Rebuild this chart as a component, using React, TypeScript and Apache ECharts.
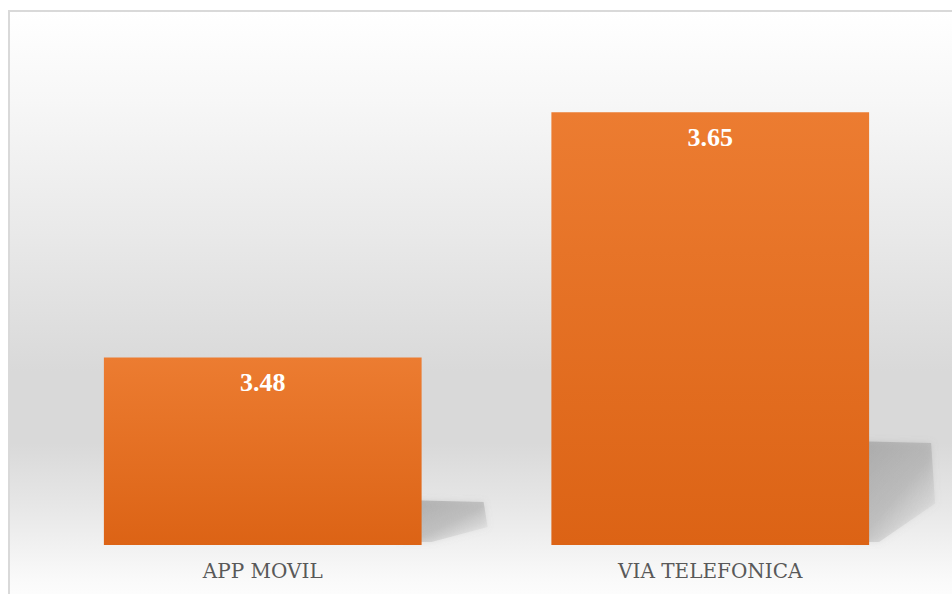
import React, { useEffect, useRef } from "react";
import * as echarts from "echarts";

const categories = ["APP MOVIL", "VIA TELEFONICA"];
const values = [3.48, 3.65];
const yMin = 3.35;
const yMax = 3.7;

const SERIF = "Liberation Serif";
const AXIS_FONT = "DejaVu Serif";

export default function App() {
  const ref = useRef<HTMLDivElement>(null);
  useEffect(() => {
    if (!ref.current) return;
    const chart = echarts.init(ref.current, null, { renderer: "svg" });
    const option = {
      animation: false,
      graphic: [
        {
          type: "rect",
          z: -10,
          silent: true,
          shape: { x: 9, y: 11, width: 960, height: 600 },
          style: {
            stroke: "#d9d9d9",
            lineWidth: 2,
            fill: new echarts.graphic.LinearGradient(0, 0, 0, 1, [
              { offset: 0, color: "#ffffff" },
              { offset: 0.15, color: "#f7f7f7" },
              { offset: 0.37, color: "#e9e9e9" },
              { offset: 0.6, color: "#d9d9d9" },
              { offset: 0.72, color: "#d9d9d9" },
              { offset: 0.82, color: "#e6e6e6" },
              { offset: 0.95, color: "#fafafa" },
              { offset: 1, color: "#ffffff" },
            ]),
          },
        },
      ],
      grid: { left: 39, right: 18, top: 40, bottom: 49 },
      xAxis: {
        type: "category",
        data: categories,
        axisLine: { show: false },
        axisTick: { show: false },
        axisLabel: {
          color: "#595959",
          fontFamily: AXIS_FONT,
          fontSize: 20,
          margin: 16,
        },
      },
      yAxis: {
        type: "value",
        min: yMin,
        max: yMax,
        show: false,
        splitLine: { show: false },
      },
      series: [
        {
          type: "custom",
          z: 1,
          silent: true,
          data: values.map((v, i) => [i, v]),
          renderItem: (params: any, api: any) => {
            const idx = api.value(0);
            const top = api.coord([idx, api.value(1)]);
            const base = api.coord([idx, yMin]);
            const band = api.size([1, 0])[0];
            const bw = band * 0.71;
            const R = top[0] + bw / 2;
            const B = base[1];
            const h = B - top[1];
            const S = B - 0.24 * h;
            return {
              type: "polygon",
              shape: {
                points: [
                  [R - 20, S],
                  [R + 62, S + 2],
                  [R + 66, S + 0.6 * (B - S)],
                  [R + 10, B - 3],
                  [R - 20, B - 3],
                ],
              },
              style: {
                fill: new echarts.graphic.LinearGradient(0, 0, 1, 1, [
                  { offset: 0, color: "rgba(150,150,150,0.6)" },
                  { offset: 0.55, color: "rgba(160,160,160,0.45)" },
                  { offset: 1, color: "rgba(210,210,210,0.05)" },
                ]),
                shadowBlur: 6,
                shadowColor: "rgba(150,150,150,0.5)",
              },
            };
          },
        },
        {
          type: "bar",
          z: 2,
          data: values,
          barWidth: "71%",
          itemStyle: {
            color: new echarts.graphic.LinearGradient(0, 0, 0, 1, [
              { offset: 0, color: "#ec7c31" },
              { offset: 1, color: "#dc6315" },
            ]),
          },
          label: {
            show: true,
            position: "insideTop",
            distance: 12,
            color: "#ffffff",
            fontFamily: SERIF,
            fontWeight: "bold",
            fontSize: 26,
            formatter: (p: any) => p.value.toFixed(2),
          },
        },
      ],
    };
    chart.setOption(option as any);
    return () => chart.dispose();
  }, []);
  return (
    <div
      ref={ref}
      style={{ position: "absolute", left: 0, top: 0, width: 952, height: 594 }}
    />
  );
}
